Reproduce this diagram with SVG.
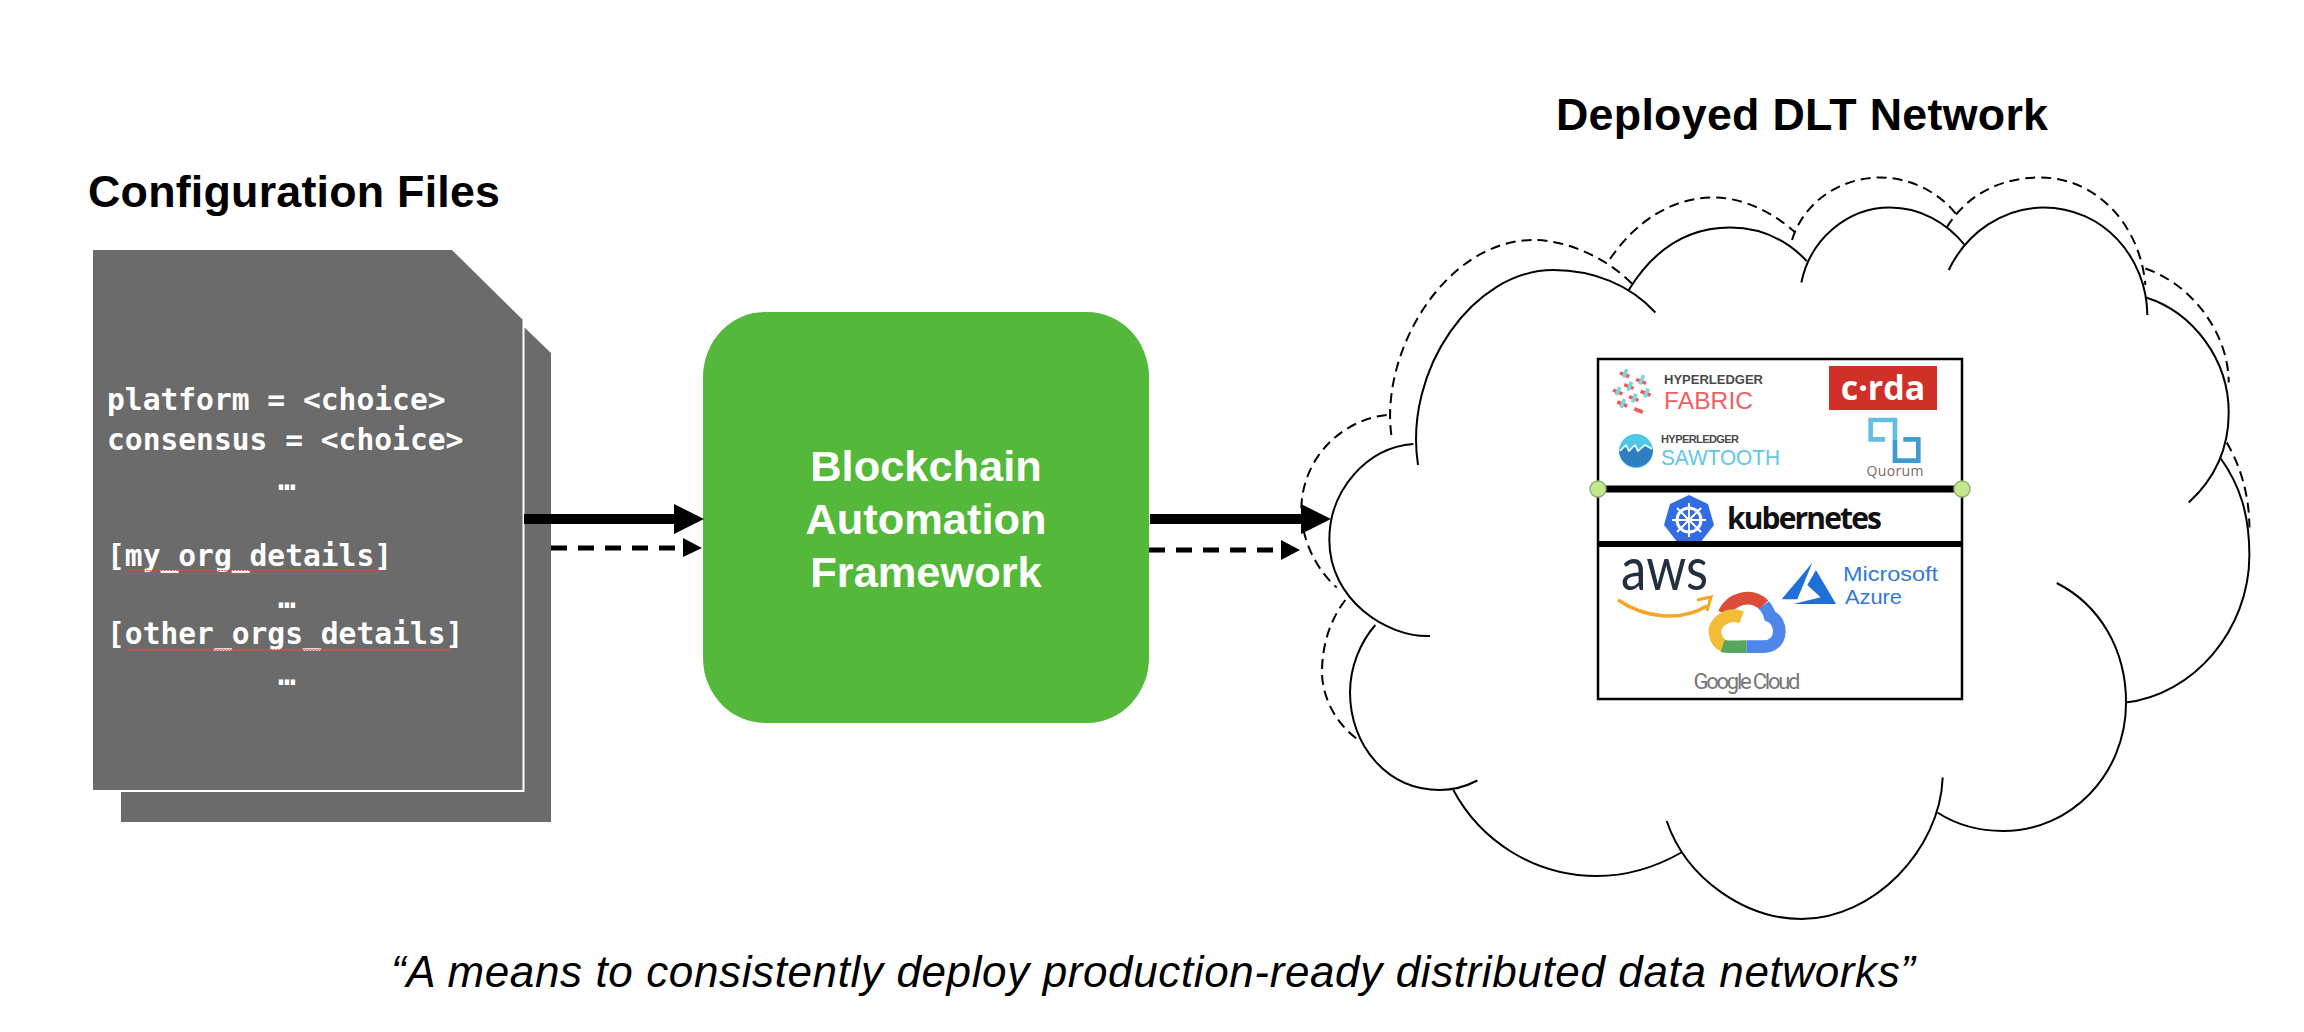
<svg xmlns="http://www.w3.org/2000/svg" width="2304" height="1032" viewBox="0 0 2304 1032">
<style>
.h{font:bold 44.8px "Liberation Sans",Arial,sans-serif;fill:#000}
.cfg{font:bold 29.6px "DejaVu Sans Mono","Liberation Mono",monospace;fill:#fff}
.doc{fill:#6b6b6b}
.fw{font:bold 43.4px "Liberation Sans",Arial,sans-serif;fill:#fff;text-anchor:middle}
.cap{font:italic 44px "Liberation Sans",Arial,sans-serif;fill:#000}
.s,.d{fill:none;stroke:#000;stroke-width:2;vector-effect:non-scaling-stroke}
.d{stroke-dasharray:10 6}
.thick{stroke:#000;stroke-width:10;fill:none}
.dash{stroke:#000;stroke-width:5;stroke-dasharray:16 11;fill:none}
.fab{font-family:"Liberation Sans",Arial,sans-serif}
.hl{font:bold 13px "Liberation Sans",Arial,sans-serif;fill:#4a4a4a}
.lg{font-family:"Lato","Open Sans",sans-serif}
.dot{fill:#c5e88e;stroke:#8fb36c;stroke-width:1.5}
.r{stroke:#ef5b5b;stroke-width:11;fill:none}
.t{stroke:#7fd6d6;stroke-width:11;fill:none}
.gc{fill:none;stroke-width:38}
</style>
<defs>
<pattern id="sq" width="6" height="4" patternUnits="userSpaceOnUse"><path d="M0 3L1.5 .8L3 3L4.5 .8L6 3" fill="none" stroke="#e8483f" stroke-width="1"/></pattern>
</defs>

<text class="h" x="88" y="207" textLength="412">Configuration Files</text>
<text class="h" x="1556" y="130" textLength="492">Deployed DLT Network</text>
<text class="cap" x="391" y="987" textLength="1524">“A means to consistently deploy production-ready distributed data networks”</text>

<g id="config-files">
<path class="doc" d="M121 328H525L551 353V822H121Z"/>
<path class="doc" d="M93 250H452L523 320V790H93Z"/>
<path d="M523.500 320V791H93" fill="none" stroke="#fff" stroke-width="2"/>
<g class="cfg">
<text x="107" y="410">platform = &lt;choice&gt;</text>
<text x="107" y="450">consensus = &lt;choice&gt;</text>
<text x="278" y="490">…</text>
<text x="107" y="566">[my_org_details]</text>
<text x="278" y="608">…</text>
<text x="107" y="644">[other_orgs_details]</text>
<text x="278" y="685">…</text>
</g>
<rect x="126" y="570" width="254" height="4" fill="url(#sq)"/>
<rect x="126" y="648" width="325" height="4" fill="url(#sq)"/>
</g>

<g id="framework">
<rect x="703" y="312" width="446" height="411" rx="62" ry="65" fill="#54b93a"/>
<text class="fw" x="926" y="481">Blockchain</text>
<text class="fw" x="926" y="534">Automation</text>
<text class="fw" x="926" y="587">Framework</text>
</g>

<g id="cloud" transform="translate(1260 150) scale(.6667 .5)">
<g>
<path class="d" d="M197 570C180 400 280 180 410 180C460 180 520 215 560 270"/>
<path class="d" d="M525 218C565 140 620 95 680 95C725 95 770 125 803 165"/>
<path class="d" d="M798 180C815 105 870 55 930 55C975 55 1020 85 1045 130"/>
<path class="d" d="M1030 155C1060 90 1110 55 1170 55C1255 55 1320 150 1328 270"/>
<path class="d" d="M1328 237C1400 270 1453 370 1453 465"/>
<path class="d" d="M1450 585C1470 630 1484 690 1484 755"/>
<path class="d" d="M190 530C120 540 62 620 62 720C62 780 85 840 115 875"/>
<path class="d" d="M128 900C105 940 93 990 93 1045C93 1095 115 1150 148 1180"/>
</g>
<g>
<path class="s" d="M237 630C215 440 320 240 440 240C500 240 555 270 593 325"/>
<path class="s" d="M553 280C590 200 640 155 705 155C750 155 790 180 820 222"/>
<path class="s" d="M812 265C825 180 880 115 945 115C990 115 1030 145 1057 190"/>
<path class="s" d="M1033 240C1060 165 1115 115 1175 115C1265 115 1330 215 1331 330"/>
<path class="s" d="M1329 295C1400 325 1453 420 1453 525C1453 600 1430 660 1393 705"/>
<path class="s" d="M1440 615C1470 670 1484 730 1484 810C1484 960 1400 1090 1298 1105"/>
<path class="s" d="M1195 866C1260 910 1299 1000 1299 1105C1299 1250 1215 1362 1115 1362C1080 1362 1045 1350 1016 1325"/>
<path class="s" d="M1024 1255C1020 1400 920 1538 812 1538C730 1538 640 1460 610 1342"/>
<path class="s" d="M632 1405C590 1437 550 1452 505 1452C410 1452 330 1380 290 1280"/>
<path class="s" d="M326 1261C310 1272 290 1280 270 1280C190 1280 135 1190 135 1085C135 1035 150 985 173 950"/>
<path class="s" d="M255 972C190 975 104 900 104 780C104 680 160 595 230 588"/>
</g>
</g>

<g id="connectors">
<path class="thick" d="M524 519H676"/>
<path d="M674 504L704 519L674 534Z"/>
<path class="dash" d="M551 548H685"/>
<path d="M683 538L702 548L683 557Z"/>
<path class="thick" d="M1150 519H1303"/>
<path d="M1301 504L1331 519L1301 534Z"/>
<path class="dash" d="M1149 550H1283"/>
<path d="M1281 540L1300 550L1281 560Z"/>
</g>

<g id="stack">
<rect x="1598" y="359" width="364" height="340" fill="#fff" stroke="#000" stroke-width="2.500"/>

<g id="fabric-logo" transform="translate(1560 340) scale(.3333)">
<g transform="rotate(22 220 160)">
<path class="r" d="M160 118h30M212 118h32M185 146h30M238 146h32M160 174h30M212 174h30M185 202h32M240 202h28"/>
<path class="t" d="M175 100v26M202 130v28M228 98v30M256 130v28M175 158v26M202 186v28M228 158v28"/>
</g>
</g>
<text class="hl" x="1664" y="384" textLength="99">HYPERLEDGER</text>
<text class="fab" x="1664" y="409" font-size="24.500" fill="#f0605f" textLength="89">FABRIC</text>

<g id="corda-logo">
<rect x="1829" y="366" width="108" height="44" fill="#cf3027"/>
<text x="1883" y="400" font-family="Open Sans,Liberation Sans,sans-serif" font-weight="700" font-size="34" fill="#fff" text-anchor="middle">c·rda</text>
</g>

<g id="sawtooth-logo">
<circle cx="1636" cy="451" r="17" fill="#4fc7e8"/>
<path d="M1619 451L1626 446L1628 452L1635 446L1637 452L1645 446L1653 449A17 17 0 0 1 1619 451Z" fill="#2f7fc0"/>
<path d="M1620 451L1626 445L1629 451L1635 445L1638 451L1645 445L1652 449" fill="none" stroke="#fff" stroke-width="1.500"/>
</g>
<text class="hl" style="font-size:11px" x="1661" y="443" textLength="78">HYPERLEDGER</text>
<text class="fab" x="1661" y="465" font-size="21.500" fill="#5cc8ec" textLength="119" lengthAdjust="spacingAndGlyphs">SAWTOOTH</text>

<g id="quorum-logo" transform="translate(1560 340) scale(.3333)" fill="none" stroke-width="14">
<path d="M975 298H932V240H1005V300" stroke="#63bfe0"/>
<path d="M1005 300V362H1075V298H1030" stroke="#3f9bd0"/>
</g>
<text x="1895" y="476" font-family="Open Sans,Liberation Sans,sans-serif" font-size="14" fill="#7a6a60" text-anchor="middle" textLength="57">Quorum</text>

<g id="k8s-logo">
<path d="M1689 495L1708 504L1714 525L1700 543H1678L1664 525L1670 504Z" fill="#326ce5"/>
<g stroke="#fff" fill="none">
<circle cx="1689" cy="520" r="12" stroke-width="3"/>
<path stroke-width="2" d="M1689 503V537M1672 520H1706M1677 508L1701 532M1701 508L1677 532"/>
</g>
</g>
<text x="1727" y="529" font-family="Open Sans,Liberation Sans,sans-serif" font-weight="700" font-size="30" fill="#111" textLength="155">kubernetes</text>

<path d="M1598 489H1962" stroke="#000" stroke-width="7"/>
<path d="M1598 544H1962" stroke="#000" stroke-width="6"/>
<circle class="dot" cx="1598" cy="489" r="8"/>
<circle class="dot" cx="1962" cy="489" r="8"/>

<g id="aws-logo">
<text class="lg" x="1621" y="590" font-size="60" fill="#232f3e" textLength="87" lengthAdjust="spacingAndGlyphs">aws</text>
<path d="M1618 600C1645 618 1680 622 1707 606" fill="none" stroke="#f5a623" stroke-width="3.500"/>
<path d="M1697 600L1711 597L1707 611" fill="none" stroke="#f5a623" stroke-width="3"/>
</g>

<g id="azure-logo" transform="translate(1560 340) scale(.3333)" fill="#1f6fd8">
<path d="M757 668L665 778H712Z"/>
<path d="M768 690L828 792H700L782 772L742 735Z"/>
</g>
<text class="fab" x="1843" y="581" font-size="20.500" fill="#2f7ad8" textLength="95" lengthAdjust="spacingAndGlyphs">Microsoft</text>
<text class="fab" x="1845" y="604" font-size="20.500" fill="#2f7ad8" textLength="57" lengthAdjust="spacingAndGlyphs">Azure</text>

<g id="google-logo" transform="translate(1560 340) scale(.3333)">
<path class="gc" stroke="#dd4b39" d="M492 820C510 780 570 755 612 795"/>
<path class="gc" stroke="#4f86ec" d="M612 795C625 812 628 820 630 828C670 845 670 920 610 920H560"/>
<path class="gc" stroke="#f4bd36" d="M545 832C500 815 460 850 465 880C468 900 478 912 492 918"/>
<path class="gc" stroke="#56a75d" d="M488 918C500 922 520 920 560 920"/>
</g>
<text x="1747" y="689" font-family="Roboto,Open Sans,sans-serif" font-size="22" fill="#777" text-anchor="middle" textLength="107">Google Cloud</text>
</g>
</svg>
